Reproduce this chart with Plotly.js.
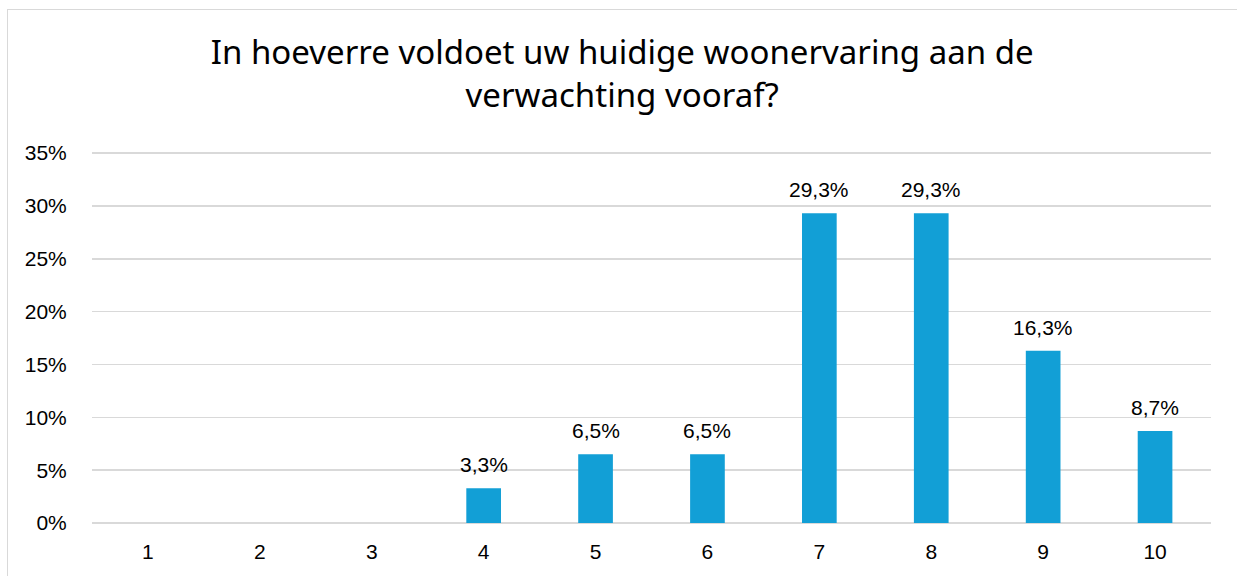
<!DOCTYPE html>
<html>
<head>
<meta charset="utf-8">
<script src="https://cdn.plot.ly/plotly-3.0.1.min.js"></script>
<style>
  body { margin: 0; background: #fff; }
  #chart { width: 1237px; height: 576px; }
  #frame {
    position: absolute; left: 7px; top: 9px; width: 1240px; height: 580px;
    border: 1px solid #d9d9d9; pointer-events: none; box-sizing: border-box;
  }
</style>
</head>
<body>
<div id="chart"></div>
<div id="frame"></div>
<script>
// scores 1-10
let categories = ["1", "2", "3", "4", "5", "6", "7", "8", "9", "10"];
// share of respondents
let shares = [0, 0, 0, 0.033, 0.065, 0.065, 0.293, 0.293, 0.163, 0.087];
// labels only for non-empty bars
let labels = shares.map(v => v > 0 ? (v * 100).toFixed(1).replace(".", ",") + "%" : "");

let axisFont = { family: "Liberation Sans, Arial, sans-serif", size: 21, color: "#000" };

let trace = {
    x: categories,
    y: shares,
    type: "bar",
    marker: { color: "#129FD6" },
    hoverinfo: "none",
};

// value labels above the bars (x as category index)
let annotations = [];
categories.forEach((c, i) => {
    if (!labels[i]) return;
    annotations.push({
        x: i, y: shares[i], xref: "x", yref: "y",
        text: labels[i], showarrow: false,
        yanchor: "bottom", yshift: 10,
        font: axisFont,
    });
});

let layout = {
    width: 1237,
    height: 576,
    margin: { l: 92, r: 26, t: 151, b: 53 },
    bargap: 0.69,
    separators: ",.",
    paper_bgcolor: "#fff",
    plot_bgcolor: "#fff",
    showlegend: false,
    annotations: annotations,
    title: {
        text: "In hoeverre voldoet uw huidige woonervaring aan de<br>verwachting vooraf?",
        font: { family: "Noto Sans, sans-serif", size: 33, color: "#000" },
        x: 0.503,
        xanchor: "center",
        y: 1 - 64 / 576,
        yanchor: "top",
    },
    xaxis: {
        type: "category",
        range: [-0.5, 9.5],
        showgrid: false,
        showline: false,
        ticks: "outside",
        ticklen: 10,
        tickcolor: "rgba(0,0,0,0)",
        tickfont: axisFont,
    },
    yaxis: {
        range: [0, 0.352],
        dtick: 0.05,
        tickformat: ".0%",
        gridcolor: "#d9d9d9",
        gridwidth: 1.5,
        zeroline: true,
        zerolinecolor: "#d9d9d9",
        zerolinewidth: 1.5,
        ticks: "outside",
        ticklen: 20,
        tickcolor: "rgba(0,0,0,0)",
        tickfont: axisFont,
    },
};

Plotly.newPlot("chart", [trace], layout, { displayModeBar: false, staticPlot: true });
</script>
</body>
</html>
